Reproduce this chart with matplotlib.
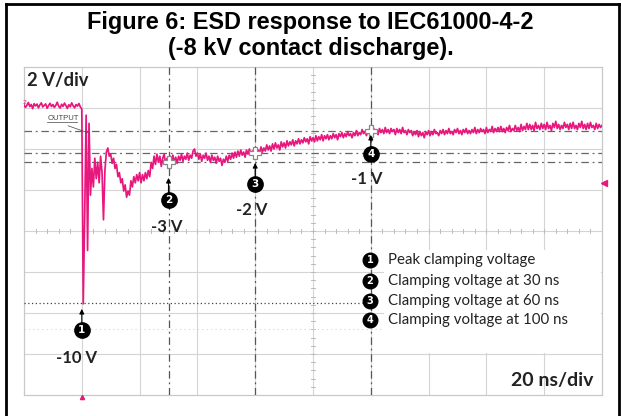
import numpy as np
import matplotlib
matplotlib.use('Agg')
import matplotlib.pyplot as plt
from matplotlib.patches import Rectangle
from matplotlib.lines import Line2D

# ---------------- data ----------------
sample_step_ns = 0.5
trace_v = [
    -0.10, -0.22, -0.12, 0.02, -0.18, -0.08, -0.28, -0.04, -0.15, -0.06,
    -0.24, -0.10, 0.00, -0.20, -0.12, -0.05, -0.26, -0.13, -0.02, -0.18,
    -0.08, -0.22, -0.12, 0.03, -0.16, -0.25, -0.07, -0.17, -0.01, -0.13,
    -0.27, -0.09, -0.19, 0.00, -0.14, -0.24, -0.08, -0.16, -0.03, -0.20,
    -0.30, -9.80, -5.50, -0.60, -7.20, -1.00, -4.50, -3.20, -4.10, -2.70,
    -3.70, -2.90, -3.90, -2.60, -3.40, -5.70, -3.30, -2.40, -2.20, -2.60,
    -2.50, -2.95, -2.70, -3.20, -3.00, -3.60, -3.40, -3.90, -3.70, -4.30,
    -4.00, -4.60, -4.30, -4.50, -3.80, -4.10, -3.60, -3.90, -3.50, -3.80,
    -3.40, -3.90, -3.50, -3.80, -3.40, -3.70, -3.30, -3.60, -2.90, -3.20,
    -2.60, -3.00, -2.50, -2.90, -2.60, -3.10, -2.70, -2.50, -3.00, -2.70,
    -2.90, -2.60, -2.85, -2.55, -2.90, -2.65, -2.95, -2.60, -2.80, -2.50,
    -2.85, -2.60, -2.75, -2.45, -2.80, -2.55, -2.70, -2.35, -2.25, -2.60,
    -2.45, -2.75, -2.50, -2.85, -2.55, -2.70, -2.45, -2.80, -2.60, -2.90,
    -2.55, -2.80, -2.65, -2.95, -2.60, -2.85, -2.70, -3.05, -2.75, -2.90,
    -2.60, -2.85, -2.55, -2.75, -2.45, -2.70, -2.40, -2.65, -2.35, -2.60,
    -2.30, -2.55, -2.40, -2.65, -2.30, -2.50, -2.25, -2.55, -2.35, -2.50,
    -2.25, -2.50, -2.30, -2.45, -2.15, -2.40, -2.20, -2.35, -2.05, -2.30,
    -2.10, -2.35, -2.00, -2.25, -1.95, -2.20, -2.05, -2.30, -1.90, -2.15,
    -1.95, -2.20, -1.85, -2.10, -1.90, -2.05, -1.80, -2.10, -1.85, -2.00,
    -1.75, -2.00, -1.80, -1.95, -1.70, -1.90, -1.75, -2.00, -1.65, -1.85,
    -1.70, -1.90, -1.60, -1.85, -1.65, -1.80, -1.55, -1.85, -1.60, -1.75,
    -1.55, -1.80, -1.60, -1.75, -1.50, -1.70, -1.55, -1.80, -1.50, -1.65,
    -1.45, -1.70, -1.50, -1.65, -1.40, -1.60, -1.50, -1.70, -1.45, -1.60,
    -1.35, -1.60, -1.45, -1.55, -1.30, -1.50, -1.40, -1.60, -1.35, -1.50,
    -1.30, -1.50, -1.25, -1.45, -1.35, -1.55, -1.25, -1.45, -1.30, -1.50,
    -1.20, -1.45, -1.30, -1.50, -1.25, -1.40, -1.30, -1.55, -1.25, -1.45,
    -1.30, -1.50, -1.20, -1.45, -1.35, -1.55, -1.30, -1.45, -1.35, -1.60,
    -1.40, -1.55, -1.35, -1.65, -1.40, -1.60, -1.45, -1.70, -1.40, -1.55,
    -1.35, -1.60, -1.40, -1.55, -1.30, -1.50, -1.45, -1.60, -1.35, -1.50,
    -1.30, -1.55, -1.35, -1.50, -1.25, -1.50, -1.40, -1.55, -1.30, -1.45,
    -1.25, -1.50, -1.35, -1.55, -1.30, -1.45, -1.25, -1.50, -1.35, -1.50,
    -1.30, -1.45, -1.20, -1.50, -1.30, -1.45, -1.25, -1.40, -1.30, -1.50,
    -1.20, -1.45, -1.30, -1.40, -1.15, -1.45, -1.25, -1.40, -1.20, -1.40,
    -1.15, -1.40, -1.25, -1.45, -1.20, -1.35, -1.10, -1.40, -1.25, -1.35,
    -1.10, -1.35, -1.20, -1.40, -1.05, -1.35, -1.15, -1.30, -1.00, -1.30,
    -1.05, -1.30, -1.10, -1.35, -0.95, -1.25, -1.10, -1.30, -1.00, -1.25,
    -1.05, -1.30, -0.95, -1.25, -1.10, -1.35, -1.00, -1.20, -0.90, -1.25,
    -1.05, -1.30, -1.10, -1.25, -0.95, -1.20, -1.05, -1.30, -1.00, -1.25,
    -0.95, -1.25, -1.10, -1.30, -1.00, -1.20, -0.90, -1.25, -1.05, -1.30,
    -1.00, -1.25, -0.95, -1.20, -1.10, -1.30, -1.00, -1.25, -1.05, -1.20,
    -1.10,
]
time_ns = np.arange(len(trace_v)) * sample_step_ns

cursor_t_ns = [20, 50, 80, 120]
cursor_level_v = [-9.76, -2.88, -2.44, -1.37]
value_labels = ['-10 V', '-3 V', '-2 V', '-1 V']
marker_numbers = ['1', '2', '3', '4']
legend_labels = ['Peak clamping voltage', 'Clamping voltage at 30 ns',
                 'Clamping voltage at 60 ns', 'Clamping voltage at 100 ns']
title_lines = ['Figure 6: ESD response to IEC61000-4-2',
               '(-8 kV contact discharge).']

# ---------------- layout ----------------
W, H = 621, 416
TRACE = '#E8177D'
fig = plt.figure(figsize=(W / 100, H / 100), dpi=100)
fig.patch.set_facecolor('white')

# outer frame (open at bottom)
for xs, ys in [([6, 6], [420, 3.5]), ([618.5, 618.5], [420, 3.5]), ([6, 618.5], [3.5, 3.5])]:
    fig.add_artist(Line2D([x / W for x in xs], [1 - y / H for y in ys],
                          color='black', lw=2.0, solid_capstyle='projecting'))

for i, line in enumerate(title_lines):
    fig.text(310.5 / W, 1 - (28.5 + 27 * i) / H, line, ha='center', va='baseline',
             fontsize=16.9, family='Liberation Sans', weight='bold', color='black')

ax = fig.add_axes([24 / W, 1 - 395 / H, 578 / W, 328 / H])
t0, t1 = 0, 200
v0, v1 = -14.25, 1.75
ax.set_xlim(t0, t1)
ax.set_ylim(v0, v1)
ax.set_xticks([]); ax.set_yticks([])
for s in ax.spines.values():
    s.set_color('#c8c8c8'); s.set_linewidth(0.9)

grid_c = '#d4d4d4'
for t in np.arange(t0 + 20, t1, 20):
    ax.axvline(t, color=grid_c, lw=0.8, zorder=1)
for v in np.arange(v0 + 2, v1, 2):
    ax.axhline(v, color=grid_c, lw=0.8, zorder=1)

# centre graticule ticks
tc, vc = 100, v0 + 8
for t in np.arange(t0, t1 + 0.1, 4):
    ax.plot([t, t], [vc - 0.1, vc + 0.1], color='#bbbbbb', lw=0.7, zorder=1)
for v in np.arange(v0, v1 + 0.01, 0.4):
    ax.plot([tc - 0.7, tc + 0.7], [v, v], color='#bbbbbb', lw=0.7, zorder=1)

# faint dotted reference line
ax.axhline(v0 + 3.2, color='#d6d6d6', lw=0.8, ls=(0, (1, 3)), zorder=1)

# cursor lines
dd = (0, (6, 3, 1.5, 3))
for t in cursor_t_ns[1:]:
    ax.axvline(t, color='#555555', lw=0.9, ls=dd, zorder=3)
for v in cursor_level_v[1:]:
    ax.axhline(v, color='#666666', lw=0.9, ls=dd, zorder=3)
ax.plot([t0, 117], [cursor_level_v[0]] * 2, color='#444444', lw=0.9, ls=(0, (1, 2)), zorder=3)

# legend white box
ax.add_patch(Rectangle((124.5, -12.2), 75.2, 5.0, facecolor='white', edgecolor='none', zorder=2))

# trace
ax.plot(time_ns, trace_v, color=TRACE, lw=1.25, zorder=4)

# cursor crosses
ax.plot(cursor_t_ns[1:], cursor_level_v[1:], ls='none', marker='P', ms=9,
        mfc='white', mec='#888888', mew=0.9, zorder=5)

# numbered markers, arrows and values
circle_v = [-11.07, -4.73, -3.95, -2.49]
arrow_tail_v = [-10.78, -4.39, -3.66, -2.20]
arrow_head_v = [-10.05, -3.66, -2.93, -1.56]
label_t = [18.3, 49.5, 78.9, 118.7]
label_v = [-12.44, -6.05, -5.22, -3.71]
for i in range(4):
    t = cursor_t_ns[i]
    ax.plot([t], [circle_v[i]], 'o', ms=11, color='black', zorder=6)
    ax.text(t, circle_v[i], marker_numbers[i], ha='center', va='center', color='white',
            fontsize=7.5, weight='bold', family='DejaVu Sans', zorder=7)
    ax.annotate('', xy=(t, arrow_head_v[i]), xytext=(t, arrow_tail_v[i]),
                arrowprops=dict(arrowstyle='-|>', color='black', lw=0.8,
                                mutation_scale=7, shrinkA=0, shrinkB=0), zorder=6)
    ax.text(label_t[i], label_v[i], value_labels[i], ha='center', va='center',
            fontsize=12, family='Lato', weight='bold', color='#222222', zorder=7)

# legend
leg_v = [-7.66, -8.68, -9.66, -10.59]
for i in range(4):
    ax.plot([119.7], [leg_v[i]], 'o', ms=10.5, color='black', zorder=6)
    ax.text(119.7, leg_v[i], marker_numbers[i], ha='center', va='center', color='white',
            fontsize=7, weight='bold', family='DejaVu Sans', zorder=7)
    ax.text(125.9, leg_v[i], legend_labels[i], ha='left', va='center',
            fontsize=10.8, family='Lato', color='#222222', zorder=7)

# scale labels
ax.text(1.0, 1.1, '2 V/div', ha='left', va='center', fontsize=13.2,
        family='Lato', weight='bold', color='#222222', zorder=7)
ax.text(197, -13.55, '20 ns/div', ha='right', va='center', fontsize=14,
        family='Lato', weight='bold', color='#222222', zorder=7)

# OUTPUT tag
ax.text(8.2, -0.78, 'OUTPUT', ha='left', va='center', fontsize=5.5,
        family='Liberation Sans', color='#444444', zorder=7)
ax.plot([8.0, 18.5], [-0.95, -0.95], color='#444444', lw=0.5, zorder=7)
ax.plot([15.3, 22.2], [-1.12, -1.46], color='#444444', lw=0.5, zorder=7)

# channel / trigger indicators
ax.text(-0.5, 0.0, '2', ha='left', va='center', fontsize=4.5, color=TRACE, zorder=7)
ax.plot([200.8], [-3.9], marker='<', ms=4, color=TRACE, clip_on=False, zorder=7)
ax.plot([20], [v0 - 0.12], marker='^', ms=3, color=TRACE, clip_on=False, zorder=7)

fig.savefig('out.png', dpi=100, facecolor='white')
